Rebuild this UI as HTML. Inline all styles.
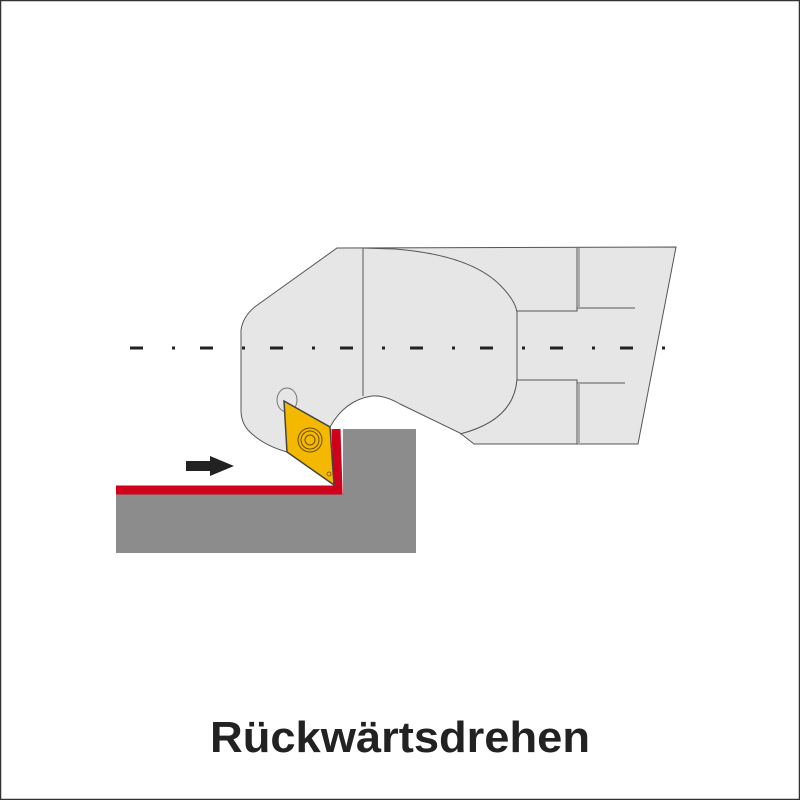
<!DOCTYPE html>
<html><head><style>
html,body{margin:0;padding:0;background:#fff}
.w{position:relative;width:800px;height:800px;overflow:hidden}
</style></head><body><div class="w">
<svg width="800" height="800" viewBox="0 0 800 800" xmlns="http://www.w3.org/2000/svg">
<rect x="0.5" y="0.5" width="799" height="799" fill="#fff" stroke="#333" stroke-width="1.5"/>
<path d="M337,248 L676,247 L638,444 L474,444 L460,433 L400,404 Q385,395 372,396 Q345,400 330,427 L287,452 Q262,445 248,430 Q241,422 241,410 L241,330 Q243,316 256,306 Z" fill="#e6e6e6" stroke="#555" stroke-width="1"/>
<path d="M363,248 L363,396" stroke="#555" stroke-width="1" fill="none"/>
<path d="M363,248 L395,249 Q470,255 500,285 Q515,300 517,312 L517,378 Q515,420 460,434" stroke="#555" stroke-width="1" fill="none"/>
<path d="M517,311 L577,311 L577,248 M577,308 L635,308" stroke="#555" stroke-width="1" fill="none"/>
<path d="M517,380 L577,380 L577,444 M577,383 L625,383" stroke="#555" stroke-width="1" fill="none"/>
<line x1="579" y1="248" x2="579" y2="308" stroke="#aaa" stroke-width="2"/>
<line x1="579" y1="383" x2="579" y2="444" stroke="#aaa" stroke-width="2"/>
<line x1="130" y1="348" x2="668" y2="348" stroke="#222" stroke-width="3" stroke-dasharray="13,29,3,25"/>
<rect x="116" y="494" width="300" height="59" fill="#8c8c8c"/>
<rect x="343" y="429" width="73" height="70" fill="#8c8c8c"/>
<path d="M116,490 L338,490 L336,429" fill="none" stroke="#d0021b" stroke-width="9"/>
<path d="M186,461 L210,461 L210,456 L234,466 L210,476 L210,471 L186,471 Z" fill="#222"/>
<ellipse cx="287" cy="400" rx="10" ry="12" fill="none" stroke="#777" stroke-width="1"/>
<path d="M284,401 L330,427 L334,485 L287,452 Z" fill="#f5b800" stroke="#444" stroke-width="1.5"/>
<circle cx="310" cy="440" r="12" fill="none" stroke="#6b4d00" stroke-width="1"/>
<circle cx="310" cy="440" r="9" fill="none" stroke="#6b4d00" stroke-width="1"/>
<circle cx="310" cy="440" r="5" fill="none" stroke="#6b4d00" stroke-width="1"/>
<circle cx="329" cy="474" r="2" fill="none" stroke="#6b4d00" stroke-width="0.8"/>
<text x="400" y="752" text-anchor="middle" font-family="Liberation Sans, sans-serif" font-weight="bold" font-size="44" fill="#222" textLength="380" lengthAdjust="spacingAndGlyphs">Rückwärtsdrehen</text>
</svg>
</div></body></html>
